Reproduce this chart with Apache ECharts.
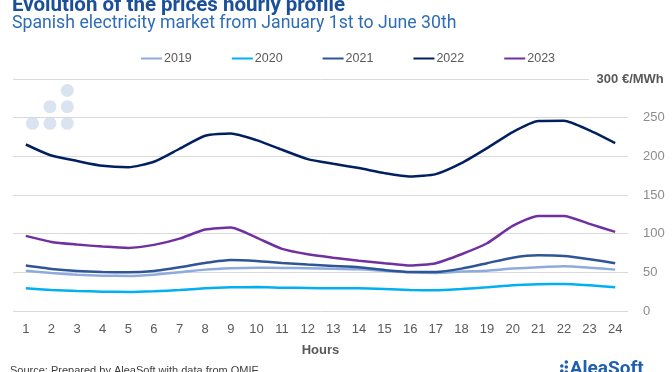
<!DOCTYPE html>
<html><head><meta charset="utf-8">
<script src="https://cdn.jsdelivr.net/npm/echarts@6/dist/echarts.min.js"></script>
<style>html,body{margin:0;padding:0;background:#fff;}#c{width:672px;height:372px;}</style>
</head><body><div id="c"></div>
<script>
const hours = ['1','2','3','4','5','6','7','8','9','10','11','12','13','14','15','16','17','18','19','20','21','22','23','24'];
const seriesNames = ['2019','2020','2021','2022','2023'];
const y2019 = [52,49,47,45.7,45.3,47,50,53.5,55.3,56,55.7,55.3,54.5,54,52,50,49.2,51,52.2,54.8,56.6,57.8,56,53.5];
const y2020 = [29.3,27.2,25.9,25,24.6,25.5,27.2,29.3,30.6,31,30.2,29.8,29.3,29.3,28.5,27.2,26.8,28.5,30.6,33.2,34.5,35,33.2,30.6];
const y2021 = [58.7,54.4,51.8,50.5,50.1,51.8,56.6,62.2,66,64.7,62.2,60,58.3,56.6,53,50.5,50.5,54.8,61.8,69,72,71.2,67,61.8];
const y2022 = [215.3,201,194,187.7,186,193,209.8,226.6,229.6,221,208.5,196.4,190.3,184.8,178.3,173.9,177,191.2,210.6,231.4,245.6,246,233.5,217.1];
const y2023 = [97.1,89.3,85.9,83.3,81.6,85.5,93.6,105.3,107.9,94.9,80.3,73.4,69,65.1,61.8,58.7,61.8,73.4,87.6,110,123,123,112.6,102.3];
const yTicks = [0,50,100,150,200,250,300];
const colors = ['#8faadc','#00b0f0','#2f5597','#002060','#7030a0'];
const values = [y2019,y2020,y2021,y2022,y2023];

const chart = echarts.init(document.getElementById('c'), null, {renderer:'canvas'});
const dot = (x,y)=>({type:'circle',shape:{cx:x,cy:y,r:6.5},style:{fill:'#dae3f0'},z:-1,silent:true});
chart.setOption({
  animation:false,
  backgroundColor:'#fff',
  title:[
    {text:'Evolution of the prices hourly profile',left:7,top:-10,textStyle:{fontFamily:'Roboto',fontSize:20.5,fontWeight:'bold',color:'#1b4f98'}},
    {text:'Spanish electricity market from January 1st to June 30th',left:7,top:10,textStyle:{fontFamily:'Roboto',fontSize:17.7,fontWeight:'normal',color:'#2e6cb5'}}
  ],
  legend:{
    data:seriesNames, top:47, left:136, itemWidth:21, itemHeight:2, itemGap:40,
    icon:'rect',
    textStyle:{fontFamily:'Liberation Sans',fontSize:12.5,color:'#595959',padding:[0,0,0,-3]}
  },
  grid:{left:13,right:44,top:79,bottom:61},
  xAxis:{
    type:'category', data:hours, boundaryGap:true,
    axisLine:{show:false}, axisTick:{show:false},
    axisLabel:{fontFamily:'Liberation Sans',fontSize:13,color:'#595959',margin:12},
    name:'Hours', nameLocation:'middle', nameGap:33,
    nameTextStyle:{fontFamily:'Liberation Sans',fontSize:13,fontWeight:'bold',color:'#595959'}
  },
  yAxis:{
    type:'value', position:'right', min:yTicks[0], max:yTicks[yTicks.length-1], interval:50,
    axisLine:{show:false}, axisTick:{show:false},
    splitLine:{lineStyle:{color:'#d9d9d9',width:1}},
    axisLabel:{fontFamily:'Liberation Sans',fontSize:13,color:'#8c8c8c',margin:15,
      formatter:v=> v===300 ? '' : String(v)}
  },
  graphic:[
    dot(32.5,123.3),dot(50,123.3),dot(67.3,123.3),dot(50,106.7),dot(67.3,106.7),dot(67.3,90.5),
    {type:'text',left:589,top:71,z:100,style:{text:' 300 €/MWh',fontFamily:'Liberation Sans',fontSize:13,fontWeight:'bold',fill:'#595959',backgroundColor:'#fff',padding:[2,0,2,4]}},
    {type:'text',left:10,top:365,style:{text:'Source: Prepared by AleaSoft with data from OMIE',fontFamily:'Liberation Sans',fontSize:11,fill:'#404040'}},
    {type:'group',left:560,top:360,children:[
      {type:'circle',shape:{cx:3,cy:6,r:1.8},style:{fill:'#1f5fae'}},
      {type:'circle',shape:{cx:3,cy:11,r:1.8},style:{fill:'#1f5fae'}},
      {type:'circle',shape:{cx:7.5,cy:2,r:1.8},style:{fill:'#1f5fae'}},
      {type:'circle',shape:{cx:7.5,cy:7,r:1.8},style:{fill:'#1f5fae'}},
      {type:'circle',shape:{cx:7.5,cy:12,r:1.8},style:{fill:'#1f5fae'}},
      {type:'text',x:11,y:0,style:{text:'AleaSoft',fontFamily:'Roboto',fontSize:19,fontWeight:'bold',fill:'#1f5fae'}}
    ]}
  ],
  series: seriesNames.map((n,i)=>({
    name:n, type:'line', data:values[i], smooth:0.2, symbol:'none',
    lineStyle:{color:colors[i],width:2.5}, itemStyle:{color:colors[i]}
  }))
});
</script></body></html>
